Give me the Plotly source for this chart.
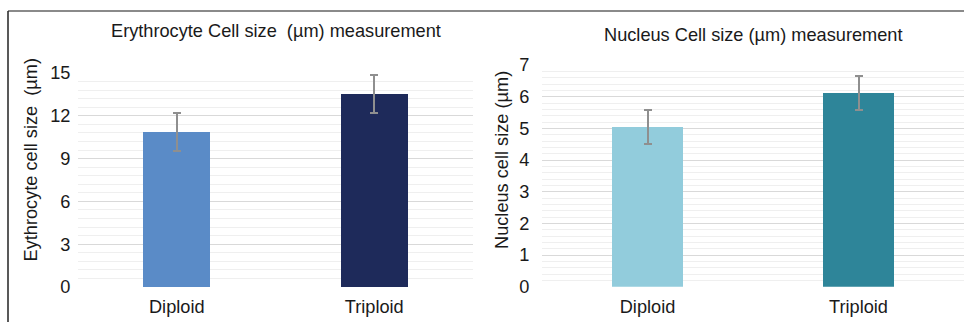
import plotly.graph_objects as go

W, H = 964, 322

categories = ["Diploid", "Triploid"]
ery_values = [10.86, 13.5]
ery_errors = [1.35, 1.33]
nuc_values = [5.04, 6.12]
nuc_errors = [0.54, 0.53]

ery_colors = ["#5A8BC7", "#1E2A5A"]
nuc_colors = ["#92CCDC", "#2E8599"]

FONT = "Liberation Sans, Arial, sans-serif"
FS = 18.2

def px_x(x):
    return x / W

def px_y(y):
    return (H - y) / H

fig = go.Figure()

fig.add_trace(go.Bar(
    x=categories, y=ery_values, width=0.34,
    marker=dict(color=ery_colors, line=dict(width=0)),
    error_y=dict(type="data", array=ery_errors, color="#8F8F8F", thickness=2, width=4),
    xaxis="x", yaxis="y", showlegend=False,
))
fig.add_trace(go.Bar(
    x=categories, y=nuc_values, width=0.34,
    marker=dict(color=nuc_colors, line=dict(width=0)),
    error_y=dict(type="data", array=nuc_errors, color="#8F8F8F", thickness=2, width=4),
    xaxis="x2", yaxis="y2", showlegend=False,
))

tickfont = dict(family=FONT, size=FS, color="#1a1a1a")

fig.update_layout(
    width=W, height=H,
    margin=dict(l=0, r=0, t=0, b=0, pad=0, autoexpand=False),
    paper_bgcolor="white", plot_bgcolor="white",
    font=dict(family=FONT, color="#1a1a1a"),
    xaxis=dict(domain=[px_x(78), px_x(473)], anchor="y", showgrid=False, zeroline=False,
               automargin=False,
               ticks="outside", ticklen=3, tickcolor="rgba(0,0,0,0)", tickfont=tickfont),
    yaxis=dict(domain=[px_y(287), px_y(73)], anchor="x", range=[0, 15], dtick=3,
               automargin=False,
               showgrid=True, gridcolor="#D9D9D9", gridwidth=1.2, zeroline=False,
               ticks="outside", ticklen=3, tickcolor="rgba(0,0,0,0)", tickfont=tickfont,
               minor=dict(dtick=0.6, showgrid=True, gridcolor="#EFEFEF", gridwidth=1)),
    xaxis2=dict(domain=[px_x(542), 1.0], anchor="y2", showgrid=False, zeroline=False,
                automargin=False,
                ticks="outside", ticklen=3, tickcolor="rgba(0,0,0,0)", tickfont=tickfont),
    yaxis2=dict(domain=[px_y(286.7), px_y(65)], anchor="x2", range=[0, 7], dtick=1,
                automargin=False,
                showgrid=True, gridcolor="#D9D9D9", gridwidth=1.2, zeroline=False,
                ticks="outside", ticklen=8, tickcolor="rgba(0,0,0,0)", tickfont=tickfont,
                minor=dict(dtick=0.2, showgrid=True, gridcolor="#EFEFEF", gridwidth=1)),
    annotations=[
        dict(text="Erythrocyte Cell size  (µm) measurement", xref="paper", yref="paper",
             x=px_x(276), y=px_y(31), xanchor="center", yanchor="middle", showarrow=False,
             font=dict(family=FONT, size=FS, color="#1a1a1a")),
        dict(text="Nucleus Cell size (µm) measurement", xref="paper", yref="paper",
             x=px_x(753), y=px_y(35), xanchor="center", yanchor="middle", showarrow=False,
             font=dict(family=FONT, size=FS, color="#1a1a1a")),
        dict(text="Eythrocyte cell size  (µm)", xref="paper", yref="paper",
             x=px_x(30.5), y=px_y(160), xanchor="center", yanchor="middle", showarrow=False,
             textangle=-90, font=dict(family=FONT, size=FS, color="#1a1a1a")),
        dict(text="Nucleus cell size (µm)", xref="paper", yref="paper",
             x=px_x(502), y=px_y(160), xanchor="center", yanchor="middle", showarrow=False,
             textangle=-90, font=dict(family=FONT, size=FS, color="#1a1a1a")),
    ],
    shapes=[
        dict(type="line", xref="paper", yref="paper", x0=px_x(8), x1=1.0,
             y0=px_y(11), y1=px_y(11), line=dict(color="#8A8A8A", width=2)),
        dict(type="line", xref="paper", yref="paper", x0=px_x(8), x1=px_x(8),
             y0=0, y1=px_y(11), line=dict(color="#222222", width=1.5)),
    ],
    bargap=0,
)

fig.write_html(
    "out.html",
    config={"responsive": False, "displayModeBar": False},
    post_script="document.body.style.margin='0';document.body.style.overflow='hidden';",
)
